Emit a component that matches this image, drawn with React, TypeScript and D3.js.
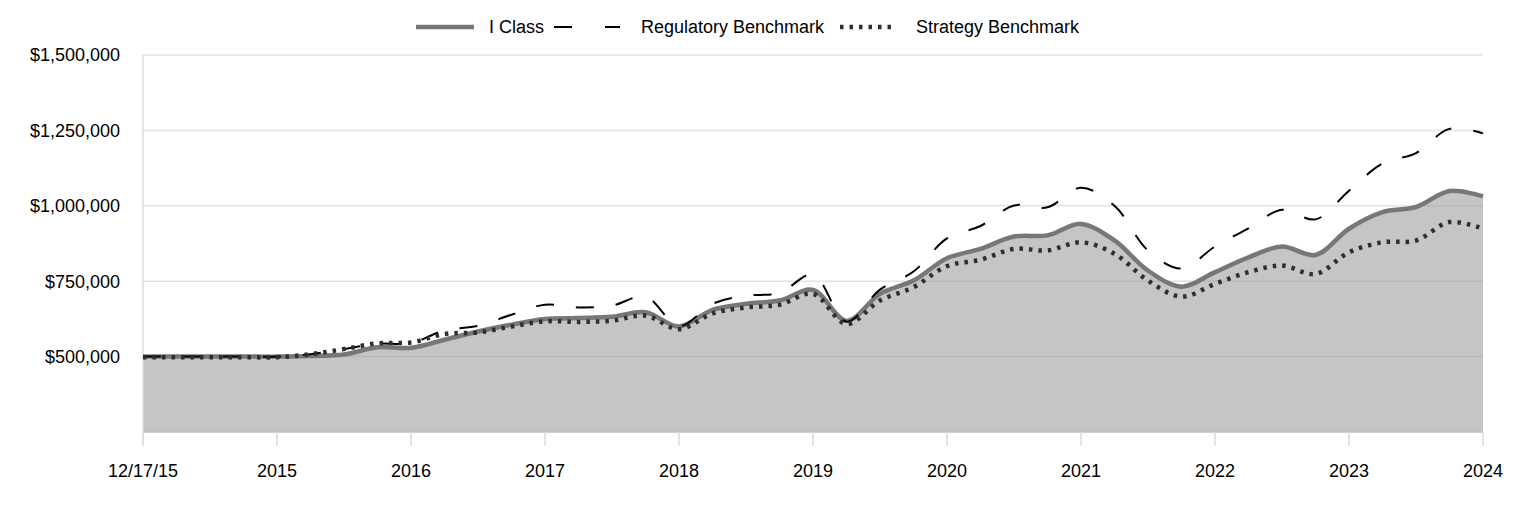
import React from "react";
import * as d3 from "d3";

const xTickLabels = ["12/17/15", "2015", "2016", "2017", "2018", "2019", "2020", "2021", "2022", "2023", "2024"];
const yTicks = [500000, 750000, 1000000, 1250000, 1500000];

// quarterly values (thousands of $)
const iClass = [500,500,500,500,500,502,507,531,529,556,583,606,625,628,632,647,600,655,675,686,721,619,708,752,826,857,898,902,940,885,785,732,780,829,865,837,924,979,996,1049,1031];
const regulatory = [500,500,500,500,500,508,525,543,545,587,602,639,672,663,669,699,601,675,702,711,772,616,722,782,892,933,1001,995,1060,1000,852,792,865,925,987,955,1050,1140,1175,1255,1240];
const strategy = [498,498,498,498,498,508,525,544,547,575,580,600,617,615,619,636,591,643,663,672,708,608,686,730,800,821,857,852,879,841,752,699,741,780,802,774,846,879,885,946,924];

const W = 1524, H = 516;
const FONT = "'Liberation Sans', Arial, sans-serif";

export default function App() {
  const x = d3.scaleLinear().domain([0, iClass.length - 1]).range([143, 1483]);
  const y = d3.scaleLinear().domain([250000, 1500000]).range([432, 55]);
  const curve = d3.curveCatmullRom.alpha(0.5);
  const line = d3.line<number>().x((_, i) => x(i)).y((d) => y(d * 1000)).curve(curve);
  const area = d3.area<number>().x((_, i) => x(i)).y0(y(250000)).y1((d) => y(d * 1000)).curve(curve);
  const fmt = (v: number) => "$" + d3.format(",")(v);
  const tickIdx = xTickLabels.map((_, i) => i * 4);

  return (
    <svg width={W} height={H} style={{ position: "absolute", left: 0, top: 0, background: "#fff" }} fontFamily={FONT}>
      {/* grid */}
      {yTicks.map((t) => (
        <line key={t} x1={143} x2={1483} y1={y(t)} y2={y(t)} stroke="#e2e2e2" strokeWidth={1.5} />
      ))}
      {/* area */}
      <path d={area(iClass) || ""} fill="#8c8c8c" fillOpacity={0.5} />
      {/* axes */}
      <line x1={143} x2={143} y1={55} y2={446} stroke="#dcdcdc" strokeWidth={1.5} />
      <line x1={143} x2={1483} y1={432} y2={432} stroke="#bdbdbd" strokeWidth={1.5} />
      {tickIdx.map((ti) => (
        <line key={ti} x1={x(ti)} x2={x(ti)} y1={432} y2={446} stroke="#dcdcdc" strokeWidth={1.5} />
      ))}
      {/* lines */}
      <path d={line(iClass) || ""} fill="none" stroke="#777" strokeWidth={4.5} />
      <path d={line(regulatory) || ""} fill="none" stroke="#000" strokeWidth={2} strokeDasharray="18,22" />
      <path d={line(strategy) || ""} fill="none" stroke="#2e2e2e" strokeWidth={4.5} strokeDasharray="3.5,6" />
      {/* y labels */}
      {yTicks.map((t) => (
        <text key={t} x={120} y={y(t)} dy="0.35em" textAnchor="end" fontSize={18} fill="#000">{fmt(t)}</text>
      ))}
      {/* x labels */}
      {xTickLabels.map((l, i) => (
        <text key={l} x={x(tickIdx[i])} y={471} dy="0.35em" textAnchor="middle" fontSize={18} fill="#000">{l}</text>
      ))}
      {/* legend */}
      <g>
        <line x1={416} x2={474} y1={27} y2={27} stroke="#777" strokeWidth={4.5} />
        <text x={489} y={27} dy="0.35em" fontSize={18}>I Class</text>
        <line x1={554} x2={620} y1={27} y2={27} stroke="#000" strokeWidth={2} strokeDasharray="18,33" />
        <text x={641} y={27} dy="0.35em" fontSize={18}>Regulatory Benchmark</text>
        <line x1={840} x2={894} y1={27} y2={27} stroke="#2e2e2e" strokeWidth={4.5} strokeDasharray="3.5,6" />
        <text x={916} y={27} dy="0.35em" fontSize={18}>Strategy Benchmark</text>
      </g>
    </svg>
  );
}
